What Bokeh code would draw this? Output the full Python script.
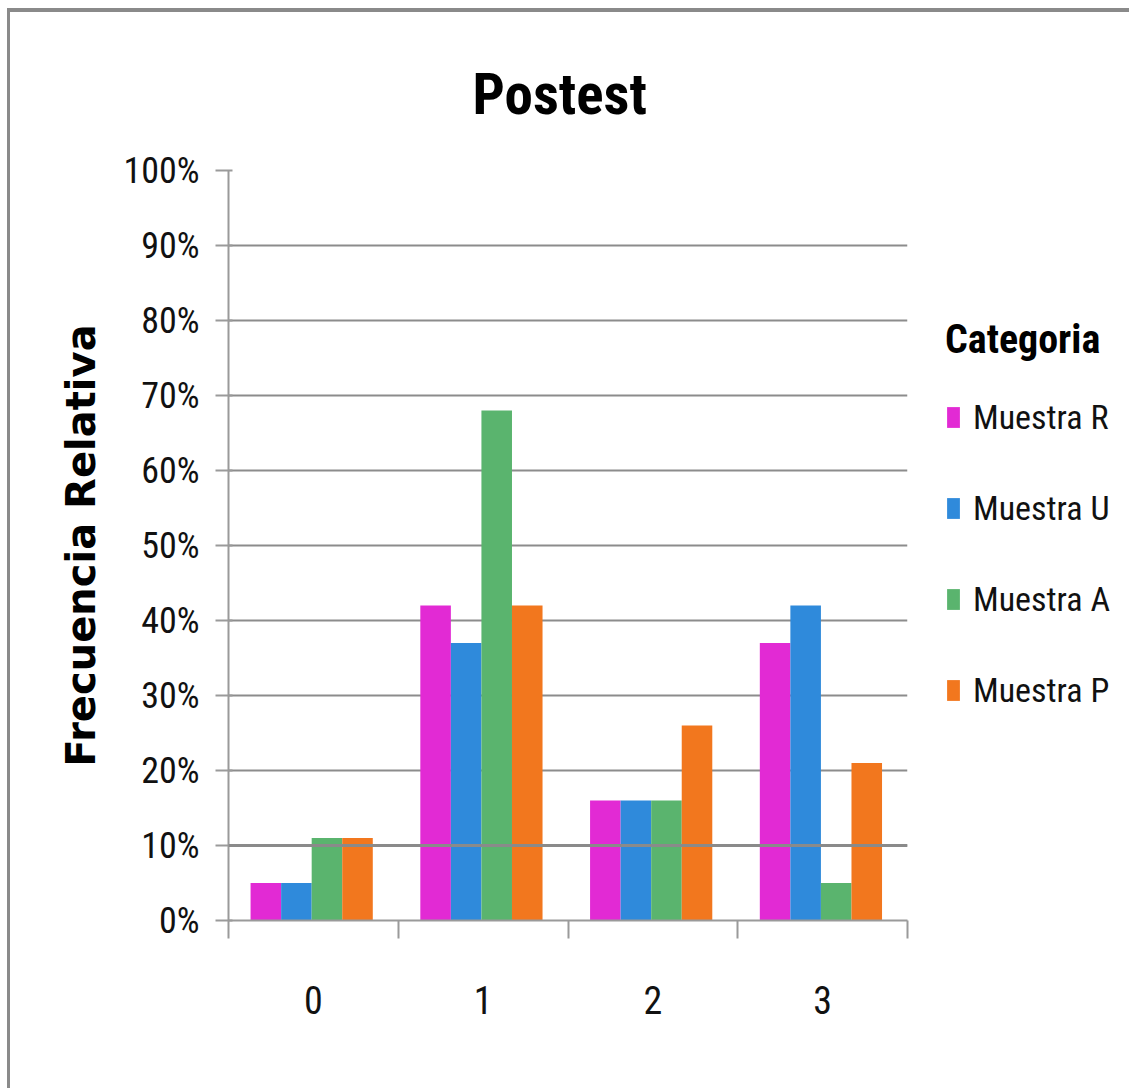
from bokeh.plotting import figure
from bokeh.models import (Range1d, FixedTicker, NumeralTickFormatter, Legend, LegendItem, Span)
from bokeh.embed import file_html
from bokeh.resources import INLINE

categories = ["0", "1", "2", "3"]
series_names = ["Muestra R", "Muestra U", "Muestra A", "Muestra P"]
muestra_r = [0.05, 0.42, 0.16, 0.37]
muestra_u = [0.05, 0.37, 0.16, 0.42]
muestra_a = [0.11, 0.68, 0.16, 0.05]
muestra_p = [0.11, 0.42, 0.26, 0.21]
colors = ["#E22AD4", "#2F8ADB", "#5AB46E", "#F2771E"]
y_ticks = [0.0, 0.1, 0.2, 0.3, 0.4, 0.5, 0.6, 0.7, 0.8, 0.9, 1.0]

FONT = "Roboto Condensed, Liberation Sans"

p = figure(frame_width=679, frame_height=750, output_backend="svg", toolbar_location=None,
           x_range=Range1d(0, len(categories)), y_range=Range1d(0, 1),
           min_border_left=218, min_border_right=0, min_border_top=158, min_border_bottom=168,
           title="Postest")
p.styles = {"margin-left": "7px", "margin-top": "8px",
            "border-top": "4px solid #8a8a8a", "border-left": "3px solid #8a8a8a"}

p.title.text_font = FONT
p.title.text_font_size = "57px"
p.title.text_font_style = "bold"
p.title.align = "left"
p.title.offset = 244
p.title.standoff = 86
p.title.text_color = "#000000"

p.outline_line_color = None
p.xgrid.grid_line_color = None
p.ygrid.grid_line_color = "#8c8c8c"
p.ygrid.grid_line_width = 2
p.ygrid.ticker = FixedTicker(ticks=y_ticks)
p.add_layout(Span(location=0.1, dimension="width", line_color="#8a8a8a", line_width=3))

# y axis
ya = p.yaxis[0]
ya.ticker = FixedTicker(ticks=y_ticks)
ya.formatter = NumeralTickFormatter(format="0%")
ya.axis_line_color = "#9a9a9a"
ya.axis_line_width = 2
ya.major_tick_line_color = "#9a9a9a"
ya.major_tick_line_width = 2
ya.major_tick_out = 13
ya.major_tick_in = 4
ya.minor_tick_line_color = None
ya.major_label_standoff = 16
ya.major_label_text_font = FONT
ya.major_label_text_font_size = "36px"
ya.major_label_text_color = "#111111"
ya.axis_label = "Frecuencia Relativa"
ya.axis_label_text_font = "DejaVu Sans"
ya.axis_label_text_font_style = "bold"
ya.axis_label_text_font_size = "40px"
ya.axis_label_text_color = "#000000"
ya.axis_label_standoff = 16

# x axis
xa = p.xaxis[0]
centers = [i + 0.5 for i in range(len(categories))]
bounds = [float(i) for i in range(len(categories) + 1)]
xa.ticker = FixedTicker(ticks=centers, minor_ticks=bounds)
xa.major_label_overrides = {c: lab for c, lab in zip(centers, categories)}
xa.major_tick_line_color = None
xa.major_tick_out = 0
xa.major_tick_in = 0
xa.minor_tick_line_color = "#9a9a9a"
xa.minor_tick_line_width = 2
xa.minor_tick_out = 18
xa.minor_tick_in = 0
xa.axis_line_color = "#9a9a9a"
xa.axis_line_width = 2
xa.major_label_standoff = 47
xa.major_label_text_font = FONT
xa.major_label_text_font_size = "38px"
xa.major_label_text_color = "#111111"

series = [muestra_r, muestra_u, muestra_a, muestra_p]
bar_w = 0.18
offsets = [-1.5 * bar_w, -0.5 * bar_w, 0.5 * bar_w, 1.5 * bar_w]
items = []
for name, vals, col, off in zip(series_names, series, colors, offsets):
    xs = [c + off - 0.01 for c in centers]
    r = p.vbar(x=xs, top=vals, width=bar_w, bottom=0, fill_color=col, line_color=None)
    items.append(LegendItem(label=name, renderers=[r]))

legend = Legend(items=items, location=(38, 210), title="Categoria")
legend.title_text_font = FONT
legend.title_text_font_style = "bold"
legend.title_text_font_size = "40px"
legend.title_text_color = "#000000"
legend.title_standoff = 34
legend.label_text_font = FONT
legend.label_text_font_size = "34px"
legend.label_text_color = "#111111"
legend.glyph_width = 16
legend.glyph_height = 26
legend.label_standoff = 12
legend.spacing = 51
legend.padding = 0
legend.margin = 0
legend.border_line_color = None
legend.background_fill_alpha = 0
p.add_layout(legend, "right")

open("out.html", "w").write(file_html(p, INLINE))
